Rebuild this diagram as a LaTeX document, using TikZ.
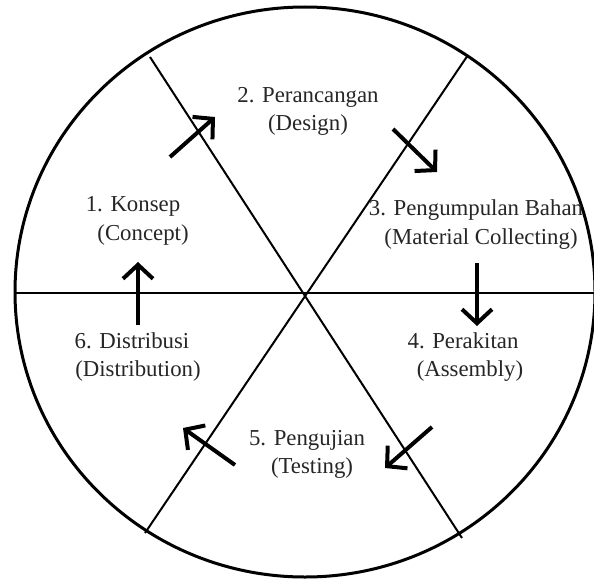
\documentclass[tikz,border=0pt]{standalone}
\usepackage{fontspec}
\setmainfont{Liberation Serif}
\usetikzlibrary{arrows.meta}
\begin{document}
\begin{tikzpicture}[x=1pt,y=-1pt,
  lbl/.style={inner sep=0pt,text=black!85,font=\fontsize{22.8}{28}\selectfont,text height=0.75em,text depth=0.25em},
  rim/.style={line width=3pt},
  spoke/.style={line width=2pt},
  flow/.style={line width=4pt,-{Straight Barb[length=14pt,width=30pt,line join=miter]}}]
\useasboundingbox (0,0) rectangle (594,578);
\fill[white] (0,0) rectangle (594,578);
% outer ring
\coordinate (c) at (305,292);
\draw[rim] (c) ellipse [x radius=290, y radius=285];
% spokes
\coordinate (ul) at (150,57);
\coordinate (lr) at (462,538);
\coordinate (ur) at (468,55);
\coordinate (ll) at (145,533);
\coordinate (hl) at (15,293);
\coordinate (hr) at (600,293);
\draw[spoke] (ul) -- (lr);
\draw[spoke] (ur) -- (ll);
\draw[spoke] (hl) -- (hr);
% labels
\node[lbl] (s2a) at (308,100) {2. Perancangan};
\node[lbl] (s2b) at (308,128) {(Design)};
\node[lbl] (s3a) at (476,213) {3. Pengumpulan Bahan};
\node[lbl] (s3b) at (481,242) {(Material Collecting)};
\node[lbl] (s4a) at (463,346) {4. Perakitan};
\node[lbl] (s4b) at (470,374) {(Assembly)};
\node[lbl] (s5a) at (307,443) {5. Pengujian};
\node[lbl] (s5b) at (312,471) {(Testing)};
\node[lbl] (s6a) at (132,346) {6. Distribusi};
\node[lbl] (s6b) at (138,374) {(Distribution)};
\node[lbl] (s1a) at (133,209) {1. Konsep};
\node[lbl] (s1b) at (143,238) {(Concept)};
% flow arrows
\coordinate (a1s) at (170,157); \coordinate (a1e) at (215,117);
\coordinate (a2s) at (393,129); \coordinate (a2e) at (437,172);
\coordinate (a3s) at (477,263); \coordinate (a3e) at (477,326);
\coordinate (a4s) at (432,427); \coordinate (a4e) at (385,468);
\coordinate (a5s) at (235,465); \coordinate (a5e) at (183,428);
\coordinate (a6s) at (138,325); \coordinate (a6e) at (138,262);
\draw[flow] (a1s) -- (a1e);
\draw[flow] (a2s) -- (a2e);
\draw[flow] (a3s) -- (a3e);
\draw[flow] (a4s) -- (a4e);
\draw[flow] (a5s) -- (a5e);
\draw[flow] (a6s) -- (a6e);
\end{tikzpicture}
\end{document}
